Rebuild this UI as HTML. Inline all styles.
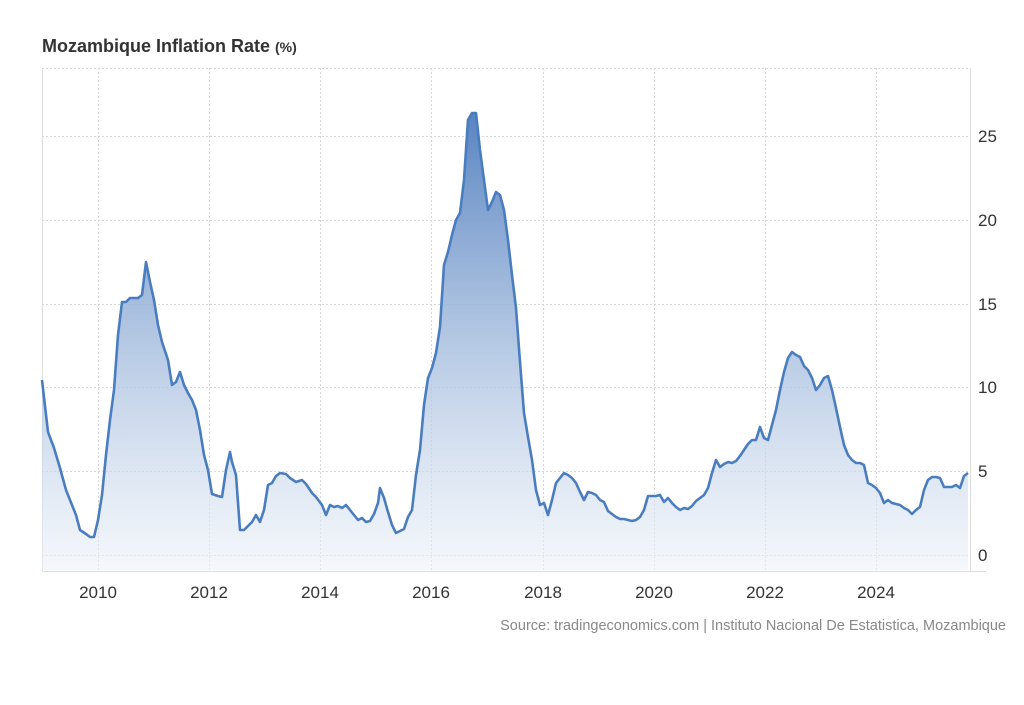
<!DOCTYPE html>
<html><head><meta charset="utf-8"><style>
body{margin:0;background:#fff;width:1024px;height:700px;overflow:hidden;font-family:"Liberation Sans",Arial,sans-serif}
</style></head><body>
<svg width="1024" height="700" xmlns="http://www.w3.org/2000/svg" font-family="Liberation Sans, Arial, sans-serif">
<defs><linearGradient id="g" gradientUnits="userSpaceOnUse" x1="0" y1="110" x2="0" y2="570">
<stop offset="0" stop-color="#5783c0" stop-opacity="1"/><stop offset="0.45" stop-color="#9db7db" stop-opacity="0.85"/><stop offset="1" stop-color="#edf2f9" stop-opacity="0.6"/></linearGradient></defs>
<text x="42" y="52" font-size="18" font-weight="bold" fill="#333">Mozambique Inflation Rate <tspan font-size="14">(%)</tspan></text>
<g stroke="#d6d6d6" stroke-dasharray="2,2" stroke-width="1">
<line x1="42" y1="68.5" x2="970" y2="68.5"/>
<line x1="42" y1="136.5" x2="970" y2="136.5"/><line x1="42" y1="220.5" x2="970" y2="220.5"/><line x1="42" y1="304.5" x2="970" y2="304.5"/><line x1="42" y1="387.5" x2="970" y2="387.5"/><line x1="42" y1="471.5" x2="970" y2="471.5"/><line x1="42" y1="555.5" x2="970" y2="555.5"/>
<line x1="98.5" y1="68" x2="98.5" y2="570"/><line x1="209.5" y1="68" x2="209.5" y2="570"/><line x1="320.5" y1="68" x2="320.5" y2="570"/><line x1="431.5" y1="68" x2="431.5" y2="570"/><line x1="543.5" y1="68" x2="543.5" y2="570"/><line x1="654.5" y1="68" x2="654.5" y2="570"/><line x1="765.5" y1="68" x2="765.5" y2="570"/><line x1="876.5" y1="68" x2="876.5" y2="570"/>
</g>
<g stroke="#ddd" stroke-width="1"><line x1="42.5" y1="68" x2="42.5" y2="572"/><line x1="970.5" y1="68" x2="970.5" y2="572"/><line x1="42" y1="571.5" x2="986" y2="571.5"/></g>
<path fill="url(#g)" d="M42,570 L42,380 48,432 54,448 60,468 66,490 70,500 76,515 80,530 86,534 90,537 94,537 98,520 102,495 106,455 110,420 114,390 118,335 122,302 126,302 130,298 134,298 138,298 142,295 146,262 150,282 154,300 158,325 162,342 168,360 172,385 176,382 180,372 184,385 188,393 192,400 196,410 200,430 204,455 208,470 212,494 218,496 222,497 226,470 230,452 232,462 236,475 240,530 244,530 248,526 252,522 256,515 260,522 264,510 268,485 272,483 276,476 280,473 286,474 290,478 296,482 302,480 306,484 312,493 316,497 322,505 326,515 330,505 334,507 338,506 342,508 346,505 350,510 354,515 358,520 362,518 366,522 370,521 374,514 378,503 380,488 384,498 388,512 392,525 396,533 400,531 404,529 408,517 412,510 416,475 420,450 424,405 428,378 432,368 436,353 440,327 444,265 448,252 452,235 456,220 460,213 464,180 468,120 472,113 476,113 480,150 484,180 488,210 492,202 496,192 500,195 504,210 508,240 512,275 516,308 520,362 524,413 528,437 532,460 536,490 540,505 544,503 548,515 552,500 556,483 560,478 564,473 568,475 572,478 576,483 580,492 584,500 588,492 592,493 596,495 600,500 604,502 608,511 612,514 616,517 620,519 624,519 628,520 632,521 636,520 640,517 644,510 648,496 652,496 656,496 660,495 664,502 668,498 672,503 676,507 680,510 684,508 688,509 692,506 696,501 700,498 704,495 708,488 712,473 716,460 720,467 724,464 728,462 732,463 736,461 740,456 744,450 748,444 752,440 756,440 760,427 764,438 768,440 772,425 776,410 780,390 784,372 788,358 792,352 796,355 800,357 804,366 808,370 812,378 816,390 820,385 824,378 828,376 832,390 836,408 840,427 844,445 848,455 852,460 856,463 860,463 864,465 868,483 872,485 876,488 880,493 884,503 888,500 892,503 896,504 900,505 904,508 908,510 912,514 916,510 920,507 924,490 928,480 932,477 936,477 940,478 944,487 948,487 952,487 956,485 960,488 964,476 968,473 L968,570 Z"/>
<polyline fill="none" stroke="#4a7dbf" stroke-width="2.6" stroke-linejoin="round" points="42,380 48,432 54,448 60,468 66,490 70,500 76,515 80,530 86,534 90,537 94,537 98,520 102,495 106,455 110,420 114,390 118,335 122,302 126,302 130,298 134,298 138,298 142,295 146,262 150,282 154,300 158,325 162,342 168,360 172,385 176,382 180,372 184,385 188,393 192,400 196,410 200,430 204,455 208,470 212,494 218,496 222,497 226,470 230,452 232,462 236,475 240,530 244,530 248,526 252,522 256,515 260,522 264,510 268,485 272,483 276,476 280,473 286,474 290,478 296,482 302,480 306,484 312,493 316,497 322,505 326,515 330,505 334,507 338,506 342,508 346,505 350,510 354,515 358,520 362,518 366,522 370,521 374,514 378,503 380,488 384,498 388,512 392,525 396,533 400,531 404,529 408,517 412,510 416,475 420,450 424,405 428,378 432,368 436,353 440,327 444,265 448,252 452,235 456,220 460,213 464,180 468,120 472,113 476,113 480,150 484,180 488,210 492,202 496,192 500,195 504,210 508,240 512,275 516,308 520,362 524,413 528,437 532,460 536,490 540,505 544,503 548,515 552,500 556,483 560,478 564,473 568,475 572,478 576,483 580,492 584,500 588,492 592,493 596,495 600,500 604,502 608,511 612,514 616,517 620,519 624,519 628,520 632,521 636,520 640,517 644,510 648,496 652,496 656,496 660,495 664,502 668,498 672,503 676,507 680,510 684,508 688,509 692,506 696,501 700,498 704,495 708,488 712,473 716,460 720,467 724,464 728,462 732,463 736,461 740,456 744,450 748,444 752,440 756,440 760,427 764,438 768,440 772,425 776,410 780,390 784,372 788,358 792,352 796,355 800,357 804,366 808,370 812,378 816,390 820,385 824,378 828,376 832,390 836,408 840,427 844,445 848,455 852,460 856,463 860,463 864,465 868,483 872,485 876,488 880,493 884,503 888,500 892,503 896,504 900,505 904,508 908,510 912,514 916,510 920,507 924,490 928,480 932,477 936,477 940,478 944,487 948,487 952,487 956,485 960,488 964,476 968,473"/>
<g font-size="17" fill="#333">
<text x="978" y="142">25</text><text x="978" y="226">20</text><text x="978" y="310">15</text><text x="978" y="393">10</text><text x="978" y="477">5</text><text x="978" y="561">0</text>
</g>
<g font-size="17" fill="#333" text-anchor="middle">
<text x="98" y="598">2010</text><text x="209" y="598">2012</text><text x="320" y="598">2014</text><text x="431" y="598">2016</text><text x="543" y="598">2018</text><text x="654" y="598">2020</text><text x="765" y="598">2022</text><text x="876" y="598">2024</text>
</g>
<text x="1006" y="630" font-size="14.5" fill="#888" text-anchor="end">Source: tradingeconomics.com | Instituto Nacional De Estatistica, Mozambique</text>
</svg>
</body></html>
